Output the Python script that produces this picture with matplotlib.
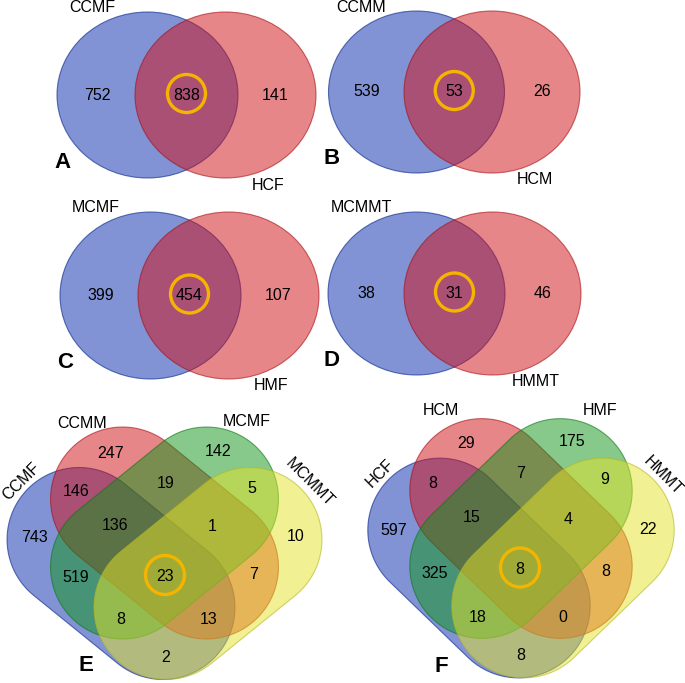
import numpy as np
import matplotlib
matplotlib.use("Agg")
import matplotlib.pyplot as plt
from matplotlib.patches import Ellipse, Polygon, Circle

plt.rcParams["font.family"] = ["Liberation Sans", "DejaVu Sans"]

# two-set panels: (left set, right set), counts (left only, shared, right only)
two_panels = ["A", "B", "C", "D"]
two_sets = [("CCMF", "HCF"), ("CCMM", "HCM"), ("MCMF", "HMF"), ("MCMMT", "HMMT")]
two_counts = [(752, 838, 141), (539, 53, 26), (399, 454, 107), (38, 31, 46)]

# four-set panels: sets in order blue, red, green, yellow
four_panels = ["E", "F"]
four_sets = [("CCMF", "CCMM", "MCMF", "MCMMT"), ("HCF", "HCM", "HMF", "HMMT")]
# region keys: b=blue, r=red, g=green, y=yellow
region_keys = ["b", "r", "g", "y", "br", "rg", "gy", "bg", "ry", "by",
               "brg", "rgy", "bgy", "bry", "brgy"]
four_counts = [
    [743, 247, 142, 10, 146, 19, 5, 519, 7, 2, 136, 1, 8, 13, 23],
    [597, 29, 175, 22, 8, 7, 9, 325, 8, 8, 15, 4, 18, 0, 8],
]

# ---- layout (pixels, y down) ----
two_layout = [  # blue centre, red centre, rx, ry
    ((147.5, 95), (225.5, 95), 90.5, 83),
    ((416.5, 92), (492, 92), 88, 81),
    ((150.5, 295.5), (228.5, 295.5), 90.5, 83.5),
    ((416.5, 293.5), (492.5, 293.5), 88.5, 81.5),
]
four_layout = [  # centre of red/green, blue offset, angle, half length, radius
    dict(c=(164.5, 533), off=(43.5, 40.5), ang=39, L=54, r=72),
    dict(c=(521, 528.5), off=(42, 39.5), ang=44, L=54.5, r=72),
]
region_pos = [
    [(-129.5, 4), (-53.5, -80), (53.5, -81), (131.5, 3.5), (-88.5, -41.5),
     (1, -50), (87.5, -44.5), (-88.5, 45), (89.5, 41.5), (1, 124),
     (-49.5, -7), (48, -6.5), (-44, 87), (44.5, 87), (0.5, 43.5)],
    [(-127, 2), (-55, -85.5), (51, -86.5), (127, 1.5), (-88, -45.5),
     (0, -55), (84, -48.5), (-86, 44.5), (85, 42.5), (0, 126.5),
     (-49, -10.5), (47, -8.5), (-43, 88.5), (42, 88.5), (-1, 40.5)],
]
set_label_pos = [
    [(-143, -51, 45), (-82.5, -110, 0), (82.5, -111, 0), (145.5, -50, -45)],
    [(-140.5, -55, 45), (-80, -118, 0), (79, -118, 0), (141.5, -52.5, -45)],
]
letter_pos = [(-78.5, 132.5), (-80, 138.5)]

BLUE = (5 / 255, 41 / 255, 171 / 255)
RED = (209 / 255, 15 / 255, 21 / 255)
GREEN = (15 / 255, 148 / 255, 25 / 255)
YELLOW = (228 / 255, 228 / 255, 40 / 255)
HILITE = "#F5B400"
FS = 11.5


def capsule(cx, cy, ang, L, r):
    a1 = np.linspace(-np.pi / 2, np.pi / 2, 60)
    a2 = np.linspace(np.pi / 2, 3 * np.pi / 2, 60)
    x = np.concatenate([L + r * np.cos(a1), -L + r * np.cos(a2)])
    y = np.concatenate([r * np.sin(a1), r * np.sin(a2)])
    t = np.deg2rad(ang)
    xr = x * np.cos(t) - y * np.sin(t) + cx
    yr = x * np.sin(t) + y * np.cos(t) + cy
    return np.column_stack([xr, yr])


def face(c):
    return (*c, 0.5)


def edge(c):
    return (*[v * 0.8 for v in c], 0.6)


fig = plt.figure(figsize=(6.85, 6.83), dpi=100)
ax = fig.add_axes([0, 0, 1, 1])
ax.set_xlim(0, 685)
ax.set_ylim(683, 0)
ax.axis("off")

for name, sets, counts, (bc, rc, rx, ry) in zip(two_panels, two_sets,
                                                 two_counts, two_layout):
    for c, col in ((bc, BLUE), (rc, RED)):
        ax.add_patch(Ellipse(c, 2 * rx, 2 * ry, fc=face(col), ec=edge(col),
                             lw=0.8))
    cy = bc[1]
    mx = (bc[0] + rc[0]) / 2
    ax.text(bc[0] - 50, cy, str(counts[0]), ha="center", va="center",
            fontsize=FS)
    ax.text(mx, cy, str(counts[1]), ha="center", va="center", fontsize=FS)
    ax.text(rc[0] + 50, cy, str(counts[2]), ha="center", va="center",
            fontsize=FS)
    ax.add_patch(Circle((mx, cy - 1.5), 19, fill=False, ec=HILITE, lw=2.4))
    ax.text(bc[0] - 55, cy - ry - 4, sets[0], ha="center", va="center",
            fontsize=FS)
    ax.text(rc[0] + 43, cy + ry + 7, sets[1], ha="center", va="center",
            fontsize=FS)
    ax.text(bc[0] - 85, cy + 67, name, ha="center", va="center",
            fontsize=16, fontweight="bold")

for i, name in enumerate(four_panels):
    lay = four_layout[i]
    cx, cy = lay["c"]
    ox, oy = lay["off"]
    shapes = [
        ((cx - ox, cy + oy), lay["ang"], BLUE),
        ((cx, cy), lay["ang"], RED),
        ((cx, cy), -lay["ang"], GREEN),
        ((cx + ox, cy + oy), -lay["ang"], YELLOW),
    ]
    for (sx, sy), ang, col in shapes:
        ax.add_patch(Polygon(capsule(sx, sy, ang, lay["L"], lay["r"]),
                             closed=True, fc=face(col), ec=edge(col), lw=0.8))
    for key, val, (dx, dy) in zip(region_keys, four_counts[i], region_pos[i]):
        ax.text(cx + dx, cy + dy, str(val), ha="center", va="center",
                fontsize=FS)
        if key == "brgy":
            ax.add_patch(Circle((cx + dx, cy + dy - 1.5), 19.5, fill=False,
                                ec=HILITE, lw=2.4))
    for lab, (dx, dy, rot) in zip(four_sets[i], set_label_pos[i]):
        ax.text(cx + dx, cy + dy, lab, ha="center", va="center",
                fontsize=FS, rotation=rot)
    lx, ly = letter_pos[i]
    ax.text(cx + lx, cy + ly, name, ha="center", va="center", fontsize=16,
            fontweight="bold")

fig.savefig("out.png", dpi=100)
